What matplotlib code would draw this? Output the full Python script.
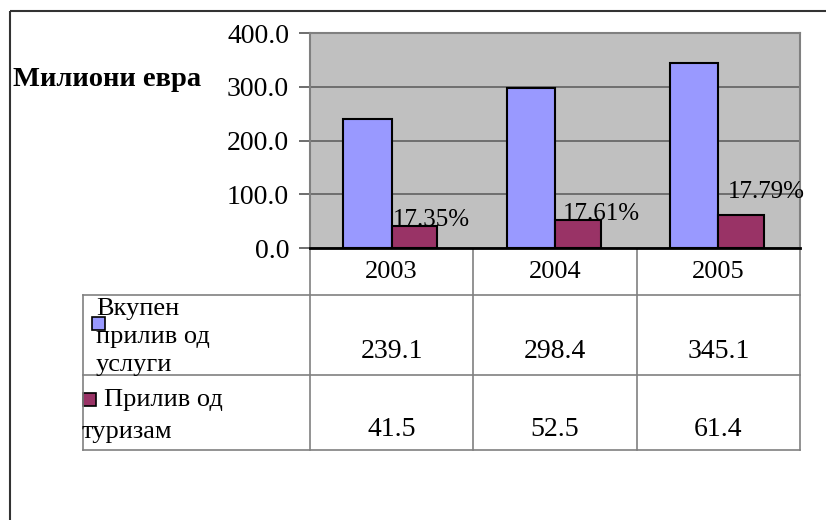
import matplotlib
matplotlib.use('Agg')
import matplotlib.pyplot as plt
from matplotlib.patches import Rectangle
from matplotlib.transforms import blended_transform_factory

plt.rcParams['font.family'] = ['Liberation Serif', 'DejaVu Serif']

# data
years = ['2003', '2004', '2005']
services = [239.1, 298.4, 345.1]
tourism = [41.5, 52.5, 61.4]
shares = ['17.35%', '17.61%', '17.79%']
series_names = ['Вкупен\nприлив од\nуслуги', 'Прилив од\nтуризам']
y_label = 'Милиони евра'
y_ticks = [0, 100, 200, 300, 400]

blue = '#9999FF'
maroon = '#993366'

W, H = 826, 520
fig = plt.figure(figsize=(W / 100, H / 100), dpi=100)

# overlay in pixel coords for frame and data table
ov = fig.add_axes([0, 0, 1, 1])
ov.set_xlim(0, W)
ov.set_ylim(H, 0)
ov.axis('off')

# main plot area
ax = fig.add_axes([310 / W, 1 - 248 / H, 490 / W, 215 / H])
ax.set_facecolor('#C0C0C0')
x = list(range(len(years)))
bw = 0.295
ax.bar([i - bw for i in x], services, width=bw, align='edge', color=blue,
       edgecolor='black', linewidth=1.5, zorder=3)
ax.bar(x, tourism, width=bw * 0.95, align='edge', color=maroon,
       edgecolor='black', linewidth=1.5, zorder=3)
ax.set_xlim(-0.5, len(years) - 0.5)
ax.set_ylim(0, 400)
ax.set_yticks(y_ticks)
ax.set_yticklabels(['%.1f' % v for v in y_ticks], fontsize=20)
ax.set_xticks([])
ax.tick_params(axis='y', length=8, width=1.2, pad=7, color='#555555')
ax.grid(axis='y', color='#606060', linewidth=1.2, zorder=1)
for s in ['top', 'right', 'left']:
    ax.spines[s].set_color('#808080')
    ax.spines[s].set_linewidth(1.5)
ax.spines['bottom'].set_color('black')
ax.spines['bottom'].set_linewidth(2)

# share labels over tourism bars
lbl_dx = [1, 8, 10]
lbl_dy = [0, 0, 17]
for i, t in enumerate(tourism):
    ax.annotate(shares[i], (i, t), xytext=(lbl_dx[i] * 0.72, lbl_dy[i] * 0.72),
                textcoords='offset points', ha='left', va='baseline',
                fontsize=18, zorder=4)

fig.text(13 / W, 1 - 80 / H, y_label, fontsize=20.5, fontweight='bold',
         ha='left', va='center')

# outer frame
ov.add_patch(Rectangle((9.5, 11), 900, 600, fill=False, edgecolor='#333333',
                       linewidth=1.5))

# data table
tc = '#808080'
tlw = 1.2
bt = blended_transform_factory(ax.transData, ov.transData)
ov.plot([310, 310], [248, 450], color=tc, lw=tlw)
for xb in [473, 637, 800]:
    ov.plot([xb, xb], [248, 450], color=tc, lw=tlw)
for yb in [295, 375, 450]:
    ov.plot([83, 800], [yb, yb], color=tc, lw=tlw)
ov.plot([83, 83], [295, 450], color=tc, lw=tlw)

for i, yr in enumerate(years):
    ov.text(i, 272, yr, transform=bt, ha='center', va='center', fontsize=19)
    ov.text(i, 352, '%.1f' % services[i], transform=bt, ha='center',
            va='center', fontsize=20)
    ov.text(i, 430, '%.1f' % tourism[i], transform=bt, ha='center',
            va='center', fontsize=20)

# row labels with legend keys
ov.add_patch(Rectangle((92, 317), 13, 13, facecolor=blue, edgecolor='black',
                       linewidth=1.2))
ov.text(96, 337, series_names[0], ha='left', va='center', fontsize=19,
        linespacing=1.35)
ov.add_patch(Rectangle((83, 393), 13, 13, facecolor=maroon, edgecolor='black',
                       linewidth=1.2))
first, second = series_names[1].split('\n')
ov.text(104, 400, first, ha='left', va='center', fontsize=19)
ov.text(82, 432, second, ha='left', va='center', fontsize=19)

fig.savefig('out.png', dpi=100)
